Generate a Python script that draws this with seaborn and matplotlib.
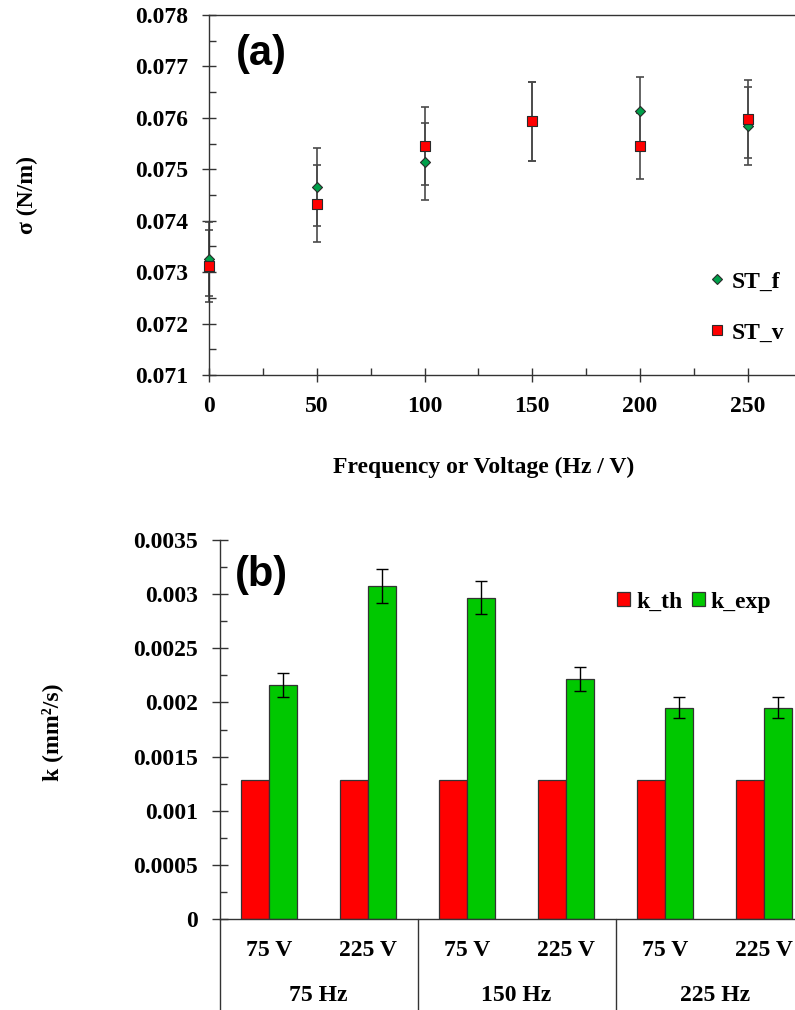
import numpy as np
import pandas as pd
import matplotlib
matplotlib.use("Agg")
import matplotlib.pyplot as plt
import matplotlib.transforms as mtransforms
from matplotlib.ticker import MultipleLocator, FuncFormatter
from matplotlib.lines import Line2D
from matplotlib.patches import Patch
import seaborn as sns

# ---- (a) surface tension vs. frequency / voltage ----
levels = [0, 50, 100, 150, 200, 250]
st_f = [0.07326, 0.07465, 0.07515, 0.07593, 0.07613, 0.07584]
st_f_err = [0.00072, 0.00076, 0.00075, 0.00076, 0.00066, 0.00076]
st_v = [0.07312, 0.07433, 0.07545, 0.07593, 0.07545, 0.07598]
st_v_err = [0.00070, 0.00075, 0.00076, 0.00076, 0.00064, 0.00076]

# ---- (b) thermal diffusivity per frequency / voltage condition ----
freq_groups = ["75 Hz", "150 Hz", "225 Hz"]
voltages = ["75 V", "225 V"]
k_th = [0.00128, 0.00128, 0.00128, 0.00128, 0.00128, 0.00128]
k_exp = [0.00216, 0.003075, 0.002967, 0.002214, 0.001953, 0.001953]
k_exp_err = [0.00011, 0.000155, 0.00015, 0.00011, 0.0001, 0.0001]

sns.set_theme(style="white")
plt.rcParams["font.family"] = ["Liberation Serif", "DejaVu Serif"]
plt.rcParams.update({
    "font.weight": "bold",
    "axes.labelweight": "bold",
    "text.color": "black",
    "axes.labelcolor": "black",
    "xtick.color": "#333333",
    "ytick.color": "#333333",
    "xtick.labelcolor": "black",
    "ytick.labelcolor": "black",
    "axes.edgecolor": "#333333",
    "axes.linewidth": 1.0,
})

GREEN_PT = "#00a04a"
RED = "#ff0000"
GREEN_BAR = "#00c800"
EDGE = "#2a2a2a"
FS = 17

fig = plt.figure(figsize=(7.95, 10.10), dpi=100)

# ---------------- panel (a) ----------------
# the x range runs to the right edge of the figure (open on the right)
ax1 = fig.add_axes([209 / 795, 635 / 1010, 586 / 795, 360 / 1010])
ax1.errorbar(levels, st_f, yerr=st_f_err, fmt="none", ecolor="#4a4a4a",
             elinewidth=1.2, capsize=3, capthick=1.2, zorder=2, clip_on=False)
ax1.errorbar(levels, st_v, yerr=st_v_err, fmt="none", ecolor="#4a4a4a",
             elinewidth=1.2, capsize=3, capthick=1.2, zorder=2, clip_on=False)
sns.scatterplot(x=levels, y=st_f, marker="D", s=26, color=GREEN_PT,
                edgecolor=EDGE, linewidth=0.8, ax=ax1, zorder=3, clip_on=False)
sns.scatterplot(x=levels, y=st_v, marker="s", s=48, color=RED,
                edgecolor=EDGE, linewidth=0.8, ax=ax1, zorder=4, clip_on=False)

ax1.set_xlim(0, 271.9)
ax1.set_ylim(0.071, 0.078)
ax1.xaxis.set_major_locator(MultipleLocator(50))
ax1.xaxis.set_minor_locator(MultipleLocator(25))
ax1.yaxis.set_major_locator(MultipleLocator(0.001))
ax1.yaxis.set_minor_locator(MultipleLocator(0.0005))
ax1.yaxis.set_major_formatter(FuncFormatter(lambda v, p: f"{v:.3f}"))
ax1.tick_params(axis="x", which="major", direction="inout", length=10,
                width=1, labelsize=FS, pad=10)
ax1.tick_params(axis="y", which="major", direction="inout", length=10,
                width=1, labelsize=FS, pad=10)
ax1.tick_params(which="minor", direction="in", length=5, width=1)
ax1.tick_params(which="both", bottom=True, left=True)
ax1.spines["right"].set_visible(False)

ax1.set_xlabel("Frequency or Voltage (Hz / V)", fontsize=FS, fontweight="bold")
ax1.xaxis.set_label_coords((483.5 - 209) / 586, -0.258)
ax1.xaxis.label.set_va("center")
ax1.set_ylabel("σ (N/m)", fontsize=FS, fontweight="bold")
ax1.yaxis.set_label_coords((27 - 209) / 586, 0.5)
ax1.yaxis.label.set_va("center")

ax1.text((236 - 209) / 586, 0.893, "(a)", transform=ax1.transAxes,
         fontsize=30, fontweight="bold", family="Liberation Sans",
         ha="left", va="center")

handles_a = [
    Line2D([], [], marker="D", ls="", markersize=5.0, markerfacecolor=GREEN_PT,
           markeredgecolor=EDGE, markeredgewidth=0.8),
    Line2D([], [], marker="s", ls="", markersize=6.9, markerfacecolor=RED,
           markeredgecolor=EDGE, markeredgewidth=0.8),
]
ax1.legend(handles_a, ["ST_f", "ST_v"], loc="center left",
           bbox_to_anchor=((710 - 209) / 586, 0.188), frameon=False,
           handlelength=0.6, handletextpad=0.3, labelspacing=1.25,
           borderpad=0, borderaxespad=0,
           prop={"weight": "bold", "size": FS})

# ---------------- panel (b) ----------------
ax2 = fig.add_axes([219.6 / 795, 91 / 1010, 594 / 795, 379 / 1010])
cond = [f"{f}|{v}" for f in freq_groups for v in voltages]
volt_labels = [v for f in freq_groups for v in voltages]
df = pd.DataFrame({
    "cond": cond + cond,
    "series": ["k_th"] * len(cond) + ["k_exp"] * len(cond),
    "k": k_th + k_exp,
})
sns.barplot(data=df, x="cond", y="k", hue="series", order=cond,
            hue_order=["k_th", "k_exp"],
            palette={"k_th": RED, "k_exp": GREEN_BAR}, saturation=1,
            width=0.57, gap=0, edgecolor="#333333", linewidth=0.9,
            errorbar=None, legend=False, ax=ax2, zorder=2)

for bar, err in zip(ax2.containers[1], k_exp_err):
    xc = bar.get_x() + bar.get_width() / 2
    ax2.errorbar(xc, bar.get_height(), yerr=err, fmt="none", ecolor="black",
                 elinewidth=1, capsize=4, capthick=1, zorder=3)

ax2.set_xlim(-0.5, 5.5)
ax2.set_ylim(0, 0.0035)
ax2.yaxis.set_major_locator(MultipleLocator(0.0005))
ax2.yaxis.set_minor_locator(MultipleLocator(0.00025))
ax2.yaxis.set_major_formatter(FuncFormatter(lambda v, p: f"{v:g}"))
ax2.set_xticks(range(len(cond)))
ax2.set_xticklabels(volt_labels)
ax2.tick_params(axis="x", which="both", length=0, labelsize=FS, pad=15)
ax2.tick_params(axis="y", which="major", direction="inout", length=11,
                width=1, labelsize=FS, pad=10, left=True)
ax2.tick_params(axis="y", which="minor", direction="in", length=5, width=1,
                left=True)
ax2.spines["top"].set_visible(False)
ax2.spines["right"].set_visible(False)
ax2.set_xlabel("")
ax2.set_ylabel("k (mm²/s)", fontsize=FS, fontweight="bold")
ax2.yaxis.set_label_coords(-0.282, 0.493)
ax2.yaxis.label.set_va("center")

# group separators and frequency labels under the category axis
blend = mtransforms.blended_transform_factory(ax2.transData, ax2.transAxes)
for xs in [-0.5, 1.5, 3.5]:
    ax2.plot([xs, xs], [0, -0.26], transform=blend, color="#333333", lw=1,
             clip_on=False)
for i, g in enumerate(freq_groups):
    ax2.text(2 * i + 0.5, -0.203, g, transform=blend, ha="center",
             va="center", fontsize=FS, fontweight="bold")

ax2.text(0.026, 0.908, "(b)", transform=ax2.transAxes, fontsize=30,
         fontweight="bold", family="Liberation Sans", ha="left", va="center")

handles_b = [Patch(facecolor=RED, edgecolor="#333333", linewidth=0.9),
             Patch(facecolor=GREEN_BAR, edgecolor="#333333", linewidth=0.9)]
ax2.legend(handles_b, ["k_th", "k_exp"], loc="center left",
           bbox_to_anchor=(0.669, 0.836), ncol=2, frameon=False,
           handlelength=0.55, handleheight=0.55, handletextpad=0.25,
           columnspacing=0.4, borderpad=0, borderaxespad=0,
           prop={"weight": "bold", "size": FS})

fig.savefig("out.png", dpi=100)
